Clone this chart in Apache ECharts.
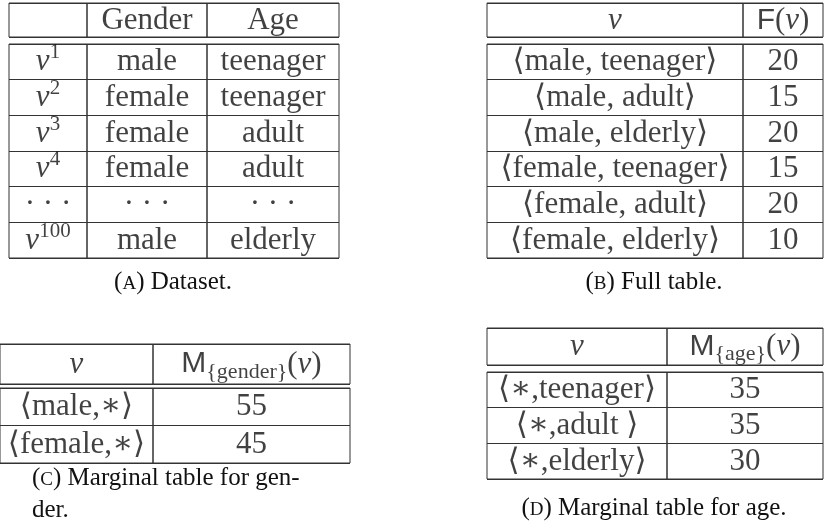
<!DOCTYPE html>
<html><head><meta charset="utf-8">
<script src="https://cdn.jsdelivr.net/npm/echarts@6/dist/echarts.min.js"></script>
<style>html,body{margin:0;padding:0;background:#fff}#c{width:825px;height:529px}</style>
</head><body><div id="c"></div>
<script>
// ---------------- data ----------------
// (A) Dataset
const datasetHeader = ['', 'Gender', 'Age'];
const datasetIds = ['1', '2', '3', '4', '…', '100'];          // '…' marks the elided row
const datasetGender = ['male', 'female', 'female', 'female', '…', 'male'];
const datasetAge = ['teenager', 'teenager', 'adult', 'adult', '…', 'elderly'];
// (B) Full table
const fullGender = ['male', 'male', 'male', 'female', 'female', 'female'];
const fullAge = ['teenager', 'adult', 'elderly', 'teenager', 'adult', 'elderly'];
const fullCount = [20, 15, 20, 15, 20, 10];
// (C) Marginal table for gender
const marginalGender = ['male', 'female'];
const marginalGenderCount = [55, 45];
// (D) Marginal table for age
const marginalAge = ['teenager', 'adult ', 'elderly'];
const marginalAgeCount = [35, 35, 30];
// captions
const captionLetters = ['A', 'B', 'C', 'D'];
const captionTexts = ['Dataset.', 'Full table.', 'Marginal table for gen-\nder.', 'Marginal table for age.'];

// ---------------- styling ----------------
const SERIF = "'Liberation Serif','DejaVu Serif',serif";
const SANS = "'Liberation Sans','DejaVu Sans',sans-serif";
const INK = '#111';
const LINE = { color: '#333', width: 1 };
const FS = 31;

const RICH = {
  n: { fontFamily: SERIF, fontSize: FS, color: INK },
  iv: { fontFamily: SERIF, fontSize: FS, fontStyle: 'italic', color: INK },
  sup: { fontFamily: SERIF, fontSize: 21, verticalAlign: 'top', color: INK },
  sf: { fontFamily: SANS, fontSize: FS - 1, color: INK }
};
const RICH_SUB = {
  n: Object.assign({}, RICH.n, { verticalAlign: 'top' }),
  iv: Object.assign({}, RICH.iv, { verticalAlign: 'top' }),
  sf: Object.assign({}, RICH.sf, { verticalAlign: 'top' })
};
const baseLabel = {
  show: true, position: 'inside', fontFamily: SERIF, fontSize: FS, color: INK,
  lineHeight: 40, offset: [0, 0.5], rich: RICH
};
const subLabel = {
  fontFamily: SERIF, fontSize: 22, color: INK, lineHeight: 46, offset: [0, 8], rich: RICH_SUB
};

const DOTS = '{n|· · ·}';
const txt = s => (s === '…' ? DOTS : '{n|' + s + '}');

// ---------------- builders ----------------
const grids = [], xAxes = [], yAxes = [], series = [];
function addBlock(colEdges, top, bottom, columns) {
  const n = columns[0].length;
  const rows = Array.from({ length: n }, (_, i) => 'r' + i);
  columns.forEach((col, c) => {
    const idx = grids.length;
    grids.push({
      left: colEdges[c], top: top, width: colEdges[c + 1] - colEdges[c], height: bottom - top,
      show: true, borderColor: '#333', borderWidth: 1, backgroundColor: 'rgba(0,0,0,0)', containLabel: false
    });
    xAxes.push({
      gridIndex: idx, type: 'category', data: ['c'],
      axisLine: { show: false }, axisTick: { show: false }, axisLabel: { show: false }, splitLine: { show: false }
    });
    yAxes.push({
      gridIndex: idx, type: 'category', data: rows, inverse: true,
      axisLine: { show: false }, axisTick: { show: false }, axisLabel: { show: false },
      splitLine: { show: true, interval: 0, lineStyle: LINE }
    });
    series.push({
      type: 'scatter', xAxisIndex: idx, yAxisIndex: idx, symbolSize: 1, silent: true,
      itemStyle: { color: 'rgba(0,0,0,0)' },
      label: Object.assign({ formatter: p => p.name }, baseLabel),
      data: rows.map((r, i) => {
        const cell = col[i];
        const item = { value: ['c', r], name: typeof cell === 'string' ? cell : cell.text };
        if (typeof cell !== 'string') item.label = cell.label;
        return item;
      })
    });
  });
}

// (A)
const colA = [9, 87, 207, 339];
addBlock(colA, 3, 37, [[''], [txt(datasetHeader[1])], [txt(datasetHeader[2])]]);
addBlock(colA, 44, 258, [
  datasetIds.map(id => id === '…' ? DOTS : '{iv|v}{sup|' + id + '}'),
  datasetGender.map(txt),
  datasetAge.map(txt)
]);
// (B)
const colB = [487, 743, 823];
addBlock(colB, 3, 37, [['{iv|v}'], ['{sf|F}{n|(}{iv|v}{n|)}']]);
addBlock(colB, 44, 258, [
  fullGender.map((g, i) => '{n|⟨' + g + ', ' + fullAge[i] + '⟩}'),
  fullCount.map(v => '{n|' + v + '}')
]);
// (C)
const colC = [-1, 153, 350];
addBlock(colC, 344, 384, [['{iv|v}'], [{ text: '{sf|M}{gender}{n|(}{iv|v}{n|)}', label: subLabel }]]);
addBlock(colC, 388, 463, [
  marginalGender.map(g => '{n|⟨' + g + ',∗⟩}'),
  marginalGenderCount.map(v => '{n|' + v + '}')
]);
// (D)
const colD = [487, 667, 823];
addBlock(colD, 328, 365, [['{iv|v}'], [{ text: '{sf|M}{age}{n|(}{iv|v}{n|)}', label: subLabel }]]);
addBlock(colD, 372, 479, [
  marginalAge.map(a => '{n|⟨∗,' + a + '⟩}'),
  marginalAgeCount.map(v => '{n|' + v + '}')
]);

// captions
const capStyle = {
  fontFamily: SERIF, fontSize: 25, fontWeight: 'normal', color: INK, lineHeight: 32,
  rich: { sc: { fontFamily: SERIF, fontSize: 19, color: INK, verticalAlign: 'middle', padding: [4, 0, 0, 0] } }
};
const capText = i => '({sc|' + captionLetters[i] + '}) ' + captionTexts[i];
const titles = [
  { text: capText(0), left: 173, top: 282, textAlign: 'center', textVerticalAlign: 'middle', padding: 0, textStyle: capStyle },
  { text: capText(1), left: 654, top: 282, textAlign: 'center', textVerticalAlign: 'middle', padding: 0, textStyle: capStyle },
  { text: capText(2), left: 32, top: 462, textAlign: 'left', textVerticalAlign: 'top', padding: 0, textStyle: capStyle },
  { text: capText(3), left: 654, top: 508, textAlign: 'center', textVerticalAlign: 'middle', padding: 0, textStyle: capStyle }
];

const chart = echarts.init(document.getElementById('c'), null, { renderer: 'canvas' });
chart.setOption({
  animation: false,
  backgroundColor: '#fff',
  title: titles,
  tooltip: { show: false },
  grid: grids,
  xAxis: xAxes,
  yAxis: yAxes,
  series: series
});
</script>
</body></html>
